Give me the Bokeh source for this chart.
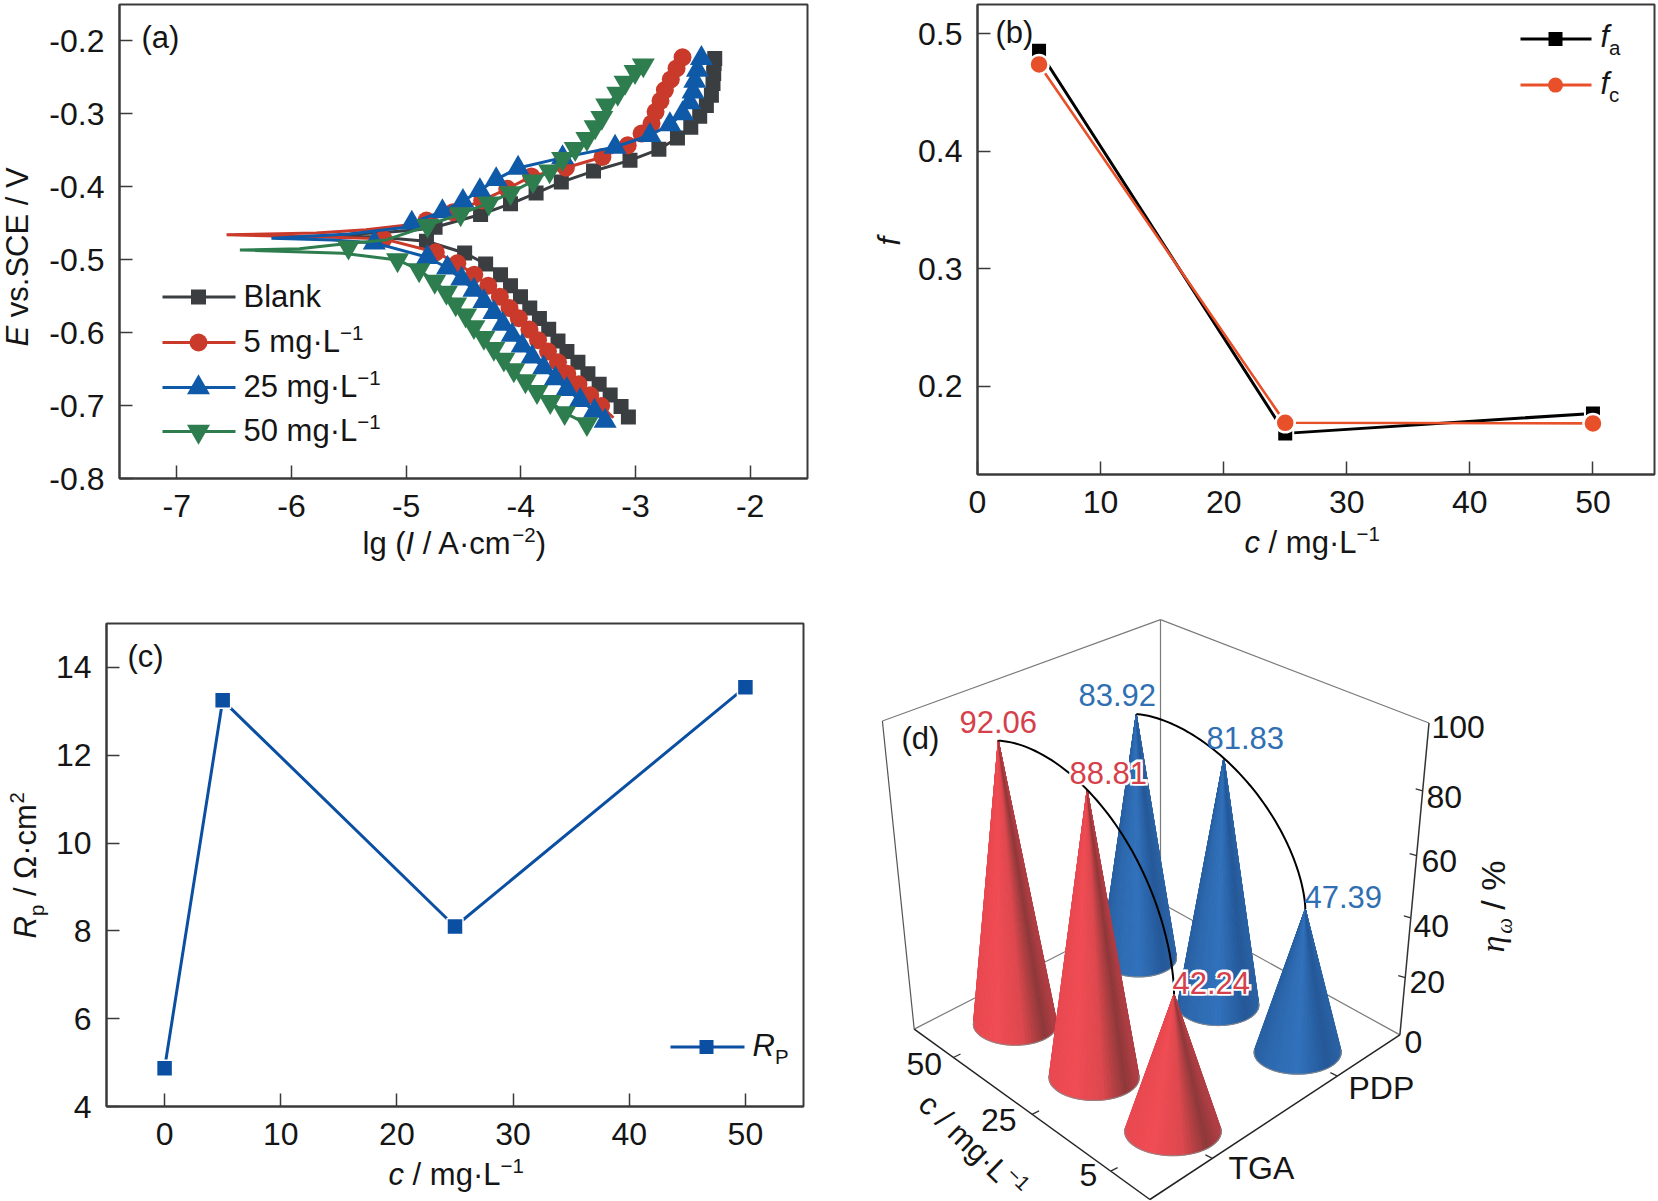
import math
from bokeh.plotting import figure
from bokeh.models import Range1d, FixedTicker, Label
from bokeh.embed import file_html
from bokeh.resources import INLINE

# ---------- data: panel (a) polarisation curves ----------
blank_an_x = [-4.748,-4.351,-4.090,-3.867,-3.647,-3.366,-3.048,-2.796,-2.634,-2.518,-2.440,-2.382,-2.338,-2.324,-2.318,-2.315,-2.309]
blank_an_y = [-0.4554,-0.4380,-0.4233,-0.4086,-0.3935,-0.3784,-0.3637,-0.3486,-0.3330,-0.3183,-0.3032,-0.2885,-0.2743,-0.2583,-0.2445,-0.2308,-0.2239]
blank_ca_x = [-4.823,-4.490,-4.307,-4.177,-4.090,-4.003,-3.922,-3.838,-3.757,-3.676,-3.598,-3.502,-3.415,-3.317,-3.221,-3.126,-3.062]
blank_ca_y = [-0.4746,-0.4907,-0.5058,-0.5205,-0.5356,-0.5507,-0.5663,-0.5806,-0.5952,-0.6113,-0.6259,-0.6406,-0.6562,-0.6709,-0.6856,-0.7011,-0.7158]
blank_tail_x = [-5.2, -5.6, -5.2, -4.9]
blank_tail_y = [-0.4695, -0.466, -0.4625, -0.459]

red_an_x = [-4.823,-4.591,-4.337,-4.119,-3.908,-3.607,-3.288,-3.068,-2.947,-2.860,-2.825,-2.782,-2.744,-2.692,-2.642,-2.590]
red_an_y = [-0.4462,-0.4348,-0.4187,-0.4027,-0.3857,-0.3738,-0.3591,-0.3431,-0.3270,-0.3133,-0.2972,-0.2821,-0.2674,-0.2528,-0.2376,-0.2225]
red_ca_x = [-5.197,-4.742,-4.554,-4.406,-4.284,-4.183,-4.099,-4.018,-3.925,-3.850,-3.763,-3.676,-3.595,-3.497,-3.395,-3.300]
red_ca_y = [-0.4714,-0.4898,-0.5049,-0.5205,-0.5356,-0.5507,-0.5663,-0.5801,-0.5957,-0.6104,-0.6259,-0.6406,-0.6562,-0.6709,-0.6860,-0.7007]
red_end = (-3.192, -0.7167)
red_tail_x = [-5.64, -6.566, -5.784, -5.350, -4.95]
red_tail_y = [-0.4691, -0.4659, -0.4632, -0.4590, -0.4517]

blue_an_x = [-4.951,-4.684,-4.505,-4.357,-4.215,-4.024,-3.636,-3.178,-2.874,-2.700,-2.590,-2.527,-2.498,-2.483,-2.460,-2.425]
blue_an_y = [-0.4495,-0.4339,-0.4197,-0.4050,-0.3899,-0.3743,-0.3600,-0.3454,-0.3293,-0.3147,-0.2995,-0.2844,-0.2697,-0.2551,-0.2399,-0.2239]
blue_ca_x = [-5.278,-4.814,-4.640,-4.516,-4.409,-4.322,-4.235,-4.157,-4.076,-3.989,-3.902,-3.801,-3.699,-3.598,-3.482,-3.358,-3.265]
blue_ca_y = [-0.4769,-0.4966,-0.5113,-0.5264,-0.5416,-0.5572,-0.5723,-0.5884,-0.6035,-0.6181,-0.6333,-0.6480,-0.6631,-0.6778,-0.6929,-0.7076,-0.7213]
blue_tail_x = [-5.64, -6.175, -5.495, -5.0]
blue_tail_y = [-0.4728, -0.4705, -0.4646, -0.4554]

green_an_x = [-4.814,-4.525,-4.279,-4.090,-3.894,-3.749,-3.636,-3.526,-3.424,-3.352,-3.294,-3.251,-3.155,-3.091,-3.004,-2.932]
green_an_y = [-0.4531,-0.4371,-0.4224,-0.4082,-0.3921,-0.3784,-0.3614,-0.3477,-0.3339,-0.3179,-0.3050,-0.2881,-0.2720,-0.2569,-0.2422,-0.2330]
green_ca_x = [-5.075,-4.887,-4.751,-4.649,-4.568,-4.481,-4.409,-4.322,-4.235,-4.148,-4.061,-3.960,-3.859,-3.743,-3.618,-3.424]
green_ca_y = [-0.5003,-0.5141,-0.5297,-0.5448,-0.5608,-0.5760,-0.5920,-0.6067,-0.6218,-0.6365,-0.6512,-0.6663,-0.6810,-0.6947,-0.7099,-0.7250]
green_mid = (-5.503, -0.4829)
green_tail_x = [-5.553, -6.450, -5.93, -5.553, -5.176, -4.887]
green_tail_y = [-0.4911, -0.4866, -0.4850, -0.4783, -0.4728, -0.4577]

a_xticks = [-7, -6, -5, -4, -3, -2]
a_yticks = [-0.8, -0.7, -0.6, -0.5, -0.4, -0.3, -0.2]
a_xlabels = ["-7", "-6", "-5", "-4", "-3", "-2"]
a_ylabels = ["-0.8", "-0.7", "-0.6", "-0.5", "-0.4", "-0.3", "-0.2"]

# ---------- data: panel (b) ----------
b_c = [5, 25, 50]
b_fa = [0.4856, 0.160, 0.177]
b_fc = [0.474, 0.169, 0.1685]
b_xticks = [0, 10, 20, 30, 40, 50]
b_yticks = [0.2, 0.3, 0.4, 0.5]

# ---------- data: panel (c) ----------
c_c = [0, 5, 25, 50]
c_rp = [4.87, 13.25, 8.1, 13.55]
c_xticks = [0, 10, 20, 30, 40, 50]
c_yticks = [4, 6, 8, 10, 12, 14]

# ---------- data: panel (d) ----------
d_conc = ["5", "25", "50"]
d_method = ["TGA", "PDP"]
d_tga = [42.24, 88.81, 92.06]
d_pdp = [47.39, 81.83, 83.92]
d_zticks = [0, 20, 40, 60, 80, 100]

# ---------- text overlay ----------
W = {' ':.278,'(':.333,')':.333,'/':.278,'·':.333,'.':.278,'−':.584,'-':.333,'%':.889,'Ω':.768,'η':.55,'ω':.65,
     'a':.556,'b':.556,'c':.5,'d':.556,'e':.556,'f':.278,'g':.556,'k':.5,'l':.222,'m':.833,'n':.556,'p':.556,'s':.5,'v':.5,
     'A':.667,'B':.667,'C':.722,'E':.667,'I':.278,'L':.556,'P':.667,'R':.722,'S':.667,'V':.667}
FONT = "Liberation Sans"
INK = "#151515"
FS = 31
TICK_FS = 32
BASE_K = 0.38   # baseline correction of the label box

fo = figure(width=1658, height=1201, x_range=Range1d(0, 1658), y_range=Range1d(1201, 0),
            toolbar_location=None, output_backend="svg", tools="",
            min_border_left=0, min_border_right=0, min_border_top=0, min_border_bottom=0,
            background_fill_color=None, border_fill_color=None)
fo.axis.visible = False
fo.grid.visible = False
fo.outline_line_color = None

def put(px, py, text, size=FS, italic=False, color=INK, angle=0, font=FONT, outline=None):
    a = math.radians(angle)
    px += -math.sin(a)*BASE_K*size
    py += -math.cos(a)*BASE_K*size
    kw = {"text_outline_color": outline} if outline else {}
    fo.add_layout(Label(x=px, y=py, text=text, text_font=font, text_font_size=f"{size}px",
                        text_font_style="italic" if italic else "normal", text_color=color,
                        angle=a, text_align="left", text_baseline="alphabetic", **kw))

def runs(x, y, parts, size=FS, angle=0, color=INK):
    a = math.radians(angle)
    adv = (math.cos(a), -math.sin(a))
    up = (-math.sin(a), -math.cos(a))
    for text, kind in parts:
        s, raise_ = size, 0
        if kind == "sup":
            s, raise_ = size*0.66, size*0.40
        elif kind == "sub":
            s, raise_ = size*0.66, -size*0.22
        font = "Liberation Serif" if text in ("η", "ω") else FONT
        # leading spaces do not survive in the drawn text, so they become an advance
        lead = len(text) - len(text.lstrip(" "))
        body = text.lstrip(" ")
        w0 = lead*W[" "]*s
        x += adv[0]*w0
        y += adv[1]*w0
        put(x+up[0]*raise_, y+up[1]*raise_, body, size=s, italic=(kind == "i" or text in ("η", "ω")),
            color=color, angle=angle, font=font)
        w = sum(W.get(ch, .556) for ch in body)*s
        x += adv[0]*w
        y += adv[1]*w

class Panel:
    def __init__(self, fig, xr, yr, l, r, t, b):
        self.fig = fig
        self.sx = (xr[1]-xr[0])/(r-l)
        self.sy = (yr[0]-yr[1])/(b-t)
        self.l, self.t, self.x0, self.y0 = l, t, xr[0], yr[1]
    def dx(self, px):
        return self.x0 + (px-self.l)*self.sx
    def dy(self, py):
        return self.y0 + (py-self.t)*self.sy

def mk_axes(pos, size, xr, yr, xticks, yticks, xlab, ylab, xoff=16, yoff=15):
    ox, oy = pos
    w_, h_ = size
    l_, r_, t_, b_ = xr[2], xr[3], yr[2], yr[3]
    p = figure(width=w_, height=h_, x_range=Range1d(xr[0], xr[1]), y_range=Range1d(yr[0], yr[1]),
               toolbar_location=None, output_backend="svg", tools="",
               min_border_left=l_-ox, min_border_right=ox+w_-r_, min_border_top=t_-oy, min_border_bottom=oy+h_-b_)
    p.styles = {"position": "absolute", "left": f"{ox}px", "top": f"{oy}px"}
    p.grid.visible = False
    p.outline_line_color = "#3a3a3a"
    p.outline_line_width = 2
    for ax, ticks, labs, off in ((p.xaxis[0], xticks, xlab, xoff), (p.yaxis[0], yticks, ylab, yoff)):
        ax.ticker = FixedTicker(ticks=ticks)
        ax.major_tick_in = 13
        ax.major_tick_out = 0
        ax.minor_tick_in = 0
        ax.minor_tick_out = 0
        ax.major_tick_line_color = "#3a3a3a"
        ax.major_tick_line_width = 1.5
        ax.axis_line_color = "#3a3a3a"
        ax.axis_line_width = 2
        ax.major_label_text_font = FONT
        ax.major_label_text_font_size = f"{TICK_FS}px"
        ax.major_label_text_color = INK
        ax.major_label_standoff = off
        ax.major_label_overrides = dict(zip(ticks, labs))
    return Panel(p, (xr[0], xr[1]), (yr[0], yr[1]), l_, r_, t_, b_)

# ---------- panel (a) ----------
ta = mk_axes((0, 0), (830, 580), (-7.5, -1.5, 119, 807), (-0.8, -0.15, 4, 478), a_xticks, a_yticks, a_xlabels, a_ylabels)
fa = ta.fig
BLK, RED, BLU, GRN = "#3a3e40", "#c93a2b", "#0f5aa8", "#2e7d4f"
series = [
    (blank_an_x, blank_an_y, blank_ca_x, blank_ca_y, blank_tail_x, blank_tail_y, [], [], BLK, "square", 15),
    (red_an_x, red_an_y, red_ca_x, red_ca_y, red_tail_x, red_tail_y, [red_end[0]], [red_end[1]], RED, "circle", 18),
    (blue_an_x, blue_an_y, blue_ca_x, blue_ca_y, blue_tail_x, blue_tail_y, [], [], BLU, "triangle", 23),
    (green_an_x, green_an_y, green_ca_x, green_ca_y, green_tail_x, green_tail_y, [], [], GRN, "inverted_triangle", 23),
]
for ax_, ay_, cx_, cy_, tx_, ty_, ex_, ey_, col, mk, sz in series:
    fa.line(ex_+cx_[::-1]+tx_+ax_, ey_+cy_[::-1]+ty_+ay_, line_color=col, line_width=3)
    extra_x = [green_mid[0]] if col == GRN else []
    extra_y = [green_mid[1]] if col == GRN else []
    fa.scatter(ax_+extra_x+cx_, ay_+extra_y+cy_, marker=mk, size=sz, fill_color=col, line_color=None)

a_leg_y = [296.5, 342, 387, 431]
for s, ly in zip(series, a_leg_y):
    fa.line([ta.dx(162), ta.dx(235)], [ta.dy(ly)]*2, line_color=s[8], line_width=3)
    fa.scatter([ta.dx(198)], [ta.dy(ly)], marker=s[9], size=s[10], fill_color=s[8], line_color=None)
runs(243, a_leg_y[0]+11, [("Blank", "n")])
runs(243, a_leg_y[1]+11, [("5 mg·L", "n"), ("−1", "sup")])
runs(243, a_leg_y[2]+11, [("25 mg·L", "n"), ("−1", "sup")])
runs(243, a_leg_y[3]+11, [("50 mg·L", "n"), ("−1", "sup")])
runs(141, 49, [("(a)", "n")])
runs(29, 346, [("E", "i"), (" vs.SCE / V", "n")], angle=90)
runs(362, 555, [("lg (", "n"), ("I", "i"), (" / A·cm", "n"), ("−2", "sup"), (")", "n")])

# ---------- panel (b) ----------
tb = mk_axes((830, 0), (828, 580), (0, 55, 977, 1654), (0.125, 0.525, 4, 474), b_xticks, b_yticks,
             [str(v) for v in b_xticks], [f"{v:.1f}" for v in b_yticks])
fb = tb.fig
ORG = "#e8502a"
fb.line(b_c, b_fa, line_color="#000000", line_width=3)
fb.scatter(b_c, b_fa, marker="square", size=16, fill_color="#000000", line_color="white", line_width=2)
fb.line(b_c, b_fc, line_color=ORG, line_width=2.6)
fb.scatter(b_c, b_fc, marker="circle", size=19, fill_color=ORG, line_color="white", line_width=2.5)
for ly, col, mk, sz in ((38.6, "#000000", "square", 14), (84.6, ORG, "circle", 15)):
    fb.line([tb.dx(1520), tb.dx(1591)], [tb.dy(ly)]*2, line_color=col, line_width=3)
    fb.scatter([tb.dx(1555)], [tb.dy(ly)], marker=mk, size=sz, fill_color=col, line_color=None)
runs(1600, 48, [("f", "i"), ("a", "sub")])
runs(1600, 95, [("f", "i"), ("c", "sub")])
runs(995, 44, [("(b)", "n")])
runs(901, 245, [("f", "i")], angle=90)
runs(1244, 554, [("c", "i"), (" / mg·L", "n"), ("−1", "sup")])

# ---------- panel (c) ----------
tc = mk_axes((0, 580), (830, 621), (-5, 55, 106, 803), (4, 15, 623, 1106), c_xticks, c_yticks,
             [str(v) for v in c_xticks], [str(v) for v in c_yticks])
fc = tc.fig
BLUE_C = "#0b4fa3"
fc.line(c_c, c_rp, line_color=BLUE_C, line_width=3)
fc.scatter(c_c, c_rp, marker="square", size=16, fill_color=BLUE_C, line_color="white", line_width=1.5)
fc.line([tc.dx(670), tc.dx(744)], [tc.dy(1046.6)]*2, line_color=BLUE_C, line_width=3)
fc.scatter([tc.dx(706)], [tc.dy(1046.6)], marker="square", size=14, fill_color=BLUE_C, line_color=None)
runs(752, 1057, [("R", "i"), ("P", "sub")])
runs(127, 668, [("(c)", "n")])
runs(37, 938, [("R", "i"), ("p", "sub"), (" / Ω·cm", "n"), ("2", "sup")], angle=90)
runs(388, 1186, [("c", "i"), (" / mg·L", "n"), ("−1", "sup")])

# ---------- panel (d): 3-D cones through a box projection ----------
fd = figure(width=828, height=621, x_range=Range1d(830, 1658), y_range=Range1d(1201, 580),
            toolbar_location=None, output_backend="svg", tools="",
            min_border_left=0, min_border_right=0, min_border_top=0, min_border_bottom=0)
fd.styles = {"position": "absolute", "left": "830px", "top": "580px"}
fd.axis.visible = False
fd.grid.visible = False
fd.outline_line_color = None

F_ = (1149.4, 1199.0); L_ = (913.7, 1028.6); R_ = (1399.4, 1034.4); B_ = (1160.0, 902.3)
TF = (1150.4, 829.6); TL = (881.9, 720.5); TR = (1428.5, 722.5); TB = (1160.0, 619.1)
PERSP = 0.11

def bil(a, b, c, d, u, v):
    return tuple(a[i] + u*(b[i]-a[i]) + v*(c[i]-a[i]) + u*v*(d[i]+a[i]-b[i]-c[i]) for i in (0, 1))

def proj(u, v, val):
    z = val/100
    h = z/(1+PERSP*(1-z))
    lo = bil(F_, L_, R_, B_, u, v)
    hi = bil(TF, TL, TR, TB, u, v)
    return (lo[0]+h*(hi[0]-lo[0]), lo[1]+h*(hi[1]-lo[1]))

GR = "#7a7a7a"
for a, b, col, w in ((L_, TL, "#555555", 1.2), (TL, TB, GR, 1.2), (TB, TR, GR, 1.2), (B_, TB, GR, 1.2),
                     (L_, B_, GR, 1.2), (R_, B_, GR, 1.2), (F_, L_, "#222222", 1.5), (F_, R_, "#222222", 1.5),
                     (R_, TR, "#333333", 1.5)):
    fd.line([a[0], b[0]], [a[1], b[1]], line_color=col, line_width=w)

for v_ in d_zticks[1:-1]:
    x_, y_ = proj(0, 1, v_)
    fd.line([x_, x_-7], [y_, y_-2], line_color="#333333", line_width=1.3)
for i in range(3):
    x_, y_ = proj((i+.5)/3, 0, 0)
    fd.line([x_, x_+7], [y_, y_-3.5], line_color="#333333", line_width=1.3)
for j in range(2):
    x_, y_ = proj(0, (j+.5)/2, 0)
    fd.line([x_, x_-7], [y_, y_-3.5], line_color="#333333", line_width=1.3)

RED_STOPS = [(0, (233, 72, 80)), (.3, (240, 76, 84)), (.6, (222, 72, 78)), (.86, (142, 56, 58)), (1, (178, 62, 68))]
BLU_STOPS = [(0, (40, 96, 162)), (.15, (44, 104, 174)), (.5, (50, 114, 188)), (.85, (36, 88, 152)), (1, (42, 98, 164))]

def shade(stops, s):
    for (s0, c0), (s1, c1) in zip(stops, stops[1:]):
        if s <= s1:
            f = (s-s0)/(s1-s0)
            return "#%02x%02x%02x" % tuple(round(c0[k]+f*(c1[k]-c0[k])) for k in range(3))
    return "#%02x%02x%02x" % stops[-1][1]

cones = []
for j, (vals, stops) in enumerate(((d_tga, RED_STOPS), (d_pdp, BLU_STOPS))):
    for i, val in enumerate(vals):
        u, v = (i+.5)/3, (j+.5)/2
        cones.append((proj(u, v, 0), proj(u, v, val), stops))
cones.sort(key=lambda c: c[0][1])

for base, tip, stops in cones:
    cx, cy = base
    rx = 38 + (cy-960)*0.06
    ry = rx*0.50
    n = 40
    ang = [math.pi+0.14 - k*(math.pi+0.28)/n for k in range(n+1)]
    pts = [(cx+rx*math.cos(t), cy+ry*math.sin(t)) for t in ang]
    xs, ys, cols = [], [], []
    for k in range(n):
        xs.append([tip[0], pts[k][0], pts[k+1][0]])
        ys.append([tip[1], pts[k][1], pts[k+1][1]])
        cols.append(shade(stops, (0.5*(pts[k][0]+pts[k+1][0])-(cx-rx))/(2*rx)))
    fd.patches(xs, ys, fill_color=cols, line_color=cols, line_width=1)
    fd.line([q[0] for q in pts], [q[1] for q in pts], line_color="#8a8a8a", line_width=1.2, line_alpha=0.8)

def arc(tips):
    (x0, y0), (x1, y1), (x2, y2) = tips
    a, b = x2-x0, y2-y0
    dx, dy = (x1-x0)/a, (y2-y1)/b
    lo, hi = 1.05, 4.0
    for _ in range(40):
        m = (lo+hi)/2
        if dx**m + dy**m > 1:
            lo = m
        else:
            hi = m
    e = (lo+hi)/2
    xs, ys = [], []
    for k in range(61):
        t = k/60*math.pi/2
        xs.append(x0 + a*math.sin(t)**(2/e))
        ys.append(y2 - b*math.cos(t)**(2/e))
    return xs, ys

for jj, vals in ((1, d_pdp), (0, d_tga)):
    tips = [proj((i+.5)/3, (jj+.5)/2, vals[i]) for i in (2, 1, 0)]
    ax_, ay_ = arc(tips)
    fd.line(ax_, ay_, line_color="#000000", line_width=2)

RT = "#d5404a"
BT = "#2f6fb2"
def halo(px, py, text):
    for dx_, dy_ in ((-1.6, -1.6), (1.6, -1.6), (-1.6, 1.6), (1.6, 1.6)):
        put(px+dx_, py+dy_, text, color="white", outline="white")

put(959, 733, f"{d_tga[2]:.2f}", color=RT)
halo(1069, 784, f"{d_tga[1]:.2f}")
put(1069, 784, f"{d_tga[1]:.2f}", color=RT)
halo(1172, 994, f"{d_tga[0]:.2f}")
put(1172, 994, f"{d_tga[0]:.2f}", color=RT)
put(1078, 706, f"{d_pdp[2]:.2f}", color=BT)
put(1206, 749, f"{d_pdp[1]:.2f}", color=BT)
put(1304, 908, f"{d_pdp[0]:.2f}", color=BT)
put(901, 750, "(d)")

for lab, px, py in zip(d_zticks, (1404, 1409, 1413, 1421, 1426, 1431), (1053.6, 994, 938, 873, 809, 739)):
    put(px, py, str(lab), size=TICK_FS)
put(1348, 1100, d_method[1], size=TICK_FS)
put(1228, 1180, d_method[0], size=TICK_FS)
for lab, px, py in zip(d_conc, (1079, 980.5, 906), (1187, 1132, 1075.5)):
    put(px, py, lab, size=TICK_FS)
runs(915, 1107, [("c", "n"), (" / mg·L", "n"), ("−1", "sup")], angle=-44)
runs(1505, 952, [("η", "n"), ("ω", "sub"), (" / %", "n")], size=34, angle=90)

# ---------- page ----------
fo.styles = {"position": "absolute", "left": "0px", "top": "0px"}
open("out.html", "w").write(file_html([fa, fb, fc, fd, fo], INLINE))
